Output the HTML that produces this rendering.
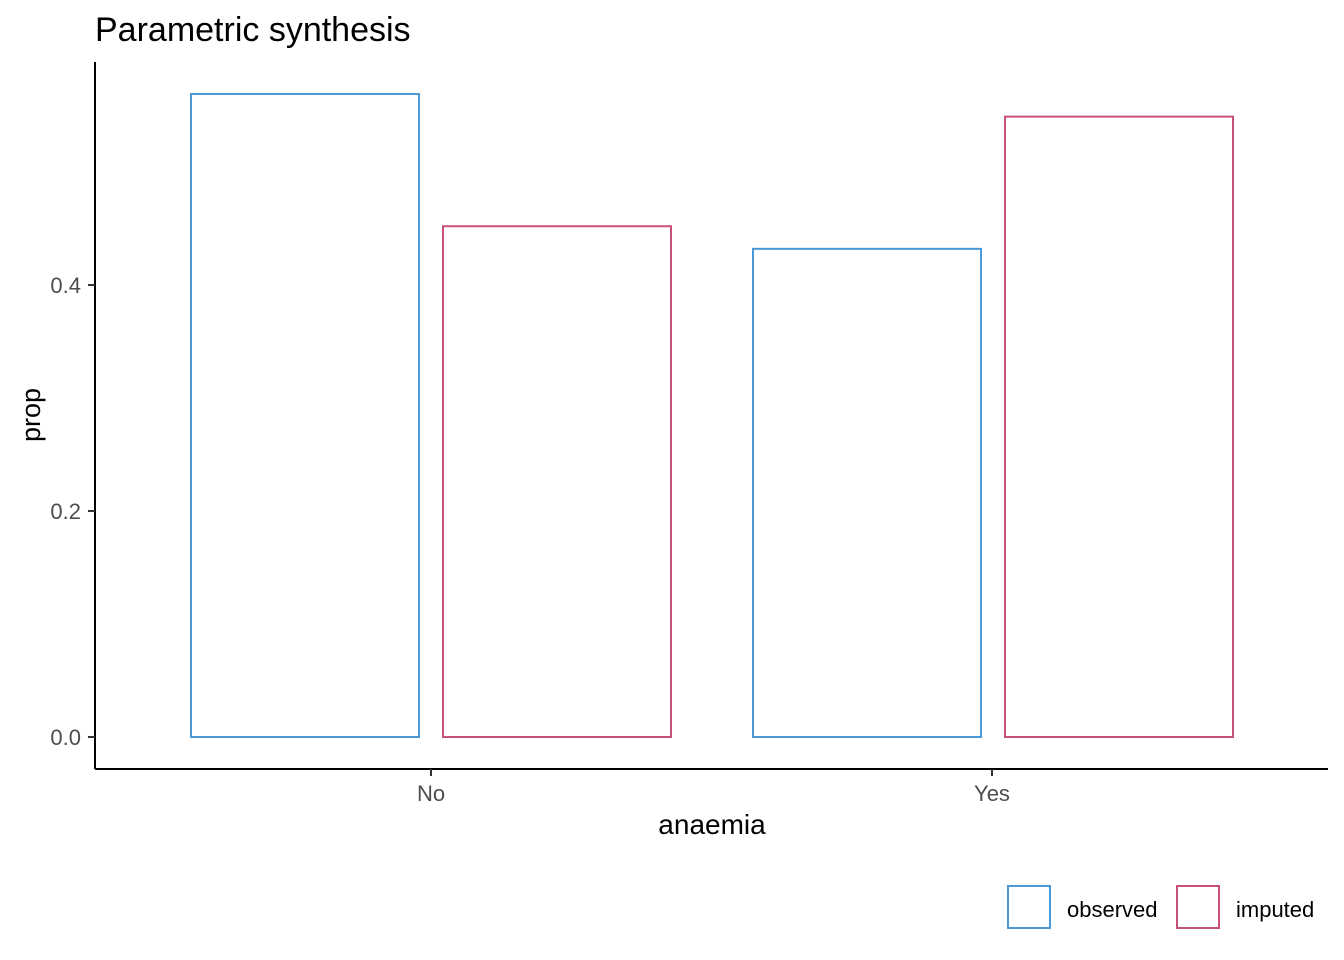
<!DOCTYPE html>
<html><head><meta charset="utf-8"><style>
html,body{margin:0;padding:0;background:#fff;}
svg{display:block;font-family:"Liberation Sans",sans-serif;}
</style></head><body>
<svg id="chart" width="1344" height="960">
<text x="95" y="41" font-size="34" fill="#000">Parametric synthesis</text>
<line x1="95" y1="62" x2="95" y2="769" stroke="#000" stroke-width="2"/>
<line x1="95" y1="769" x2="1328" y2="769" stroke="#000" stroke-width="2"/>
<g id="bars"></g><g id="yticks"></g><g id="xticks"></g>
<text x="712" y="834" font-size="28" text-anchor="middle" fill="#000">anaemia</text>
<text transform="translate(40,415) rotate(-90)" font-size="27" text-anchor="middle" fill="#000">prop</text>
<g>
<rect x="1008" y="886" width="42" height="42" fill="none" stroke="#4a98d6" stroke-width="2"/>
<text x="1067" y="917" font-size="22" fill="#000">observed</text>
<rect x="1177" y="886" width="42" height="42" fill="none" stroke="#c9507a" stroke-width="2"/>
<text x="1236" y="917" font-size="22" fill="#000">imputed</text>
</g>
</svg>
<script>
const categories = ["No", "Yes"];
const observed = [0.569, 0.432];
const imputed = [0.452, 0.549];
const yTicks = [0.0, 0.2, 0.4];
const yTickLabels = ["0.0", "0.2", "0.4"];
const NS = "http://www.w3.org/2000/svg";
function yScale(v){ return 737 - v * 1130; }
function xScale(i){ return 431 + i * 561; }
const barW = 228, off = 126;
const bars = document.getElementById("bars");
const series = [{vals: observed, col: "#4a98d6", name: "observed", d: -off}, {vals: imputed, col: "#c9507a", name: "imputed", d: off}];
series.forEach(s => {
  s.vals.forEach((v, i) => {
    const r = document.createElementNS(NS, "rect");
    const cx = xScale(i) + s.d + (i === 1 ? 1 : 0);
    r.setAttribute("x", cx - barW / 2);
    r.setAttribute("y", yScale(v));
    r.setAttribute("width", barW);
    r.setAttribute("height", yScale(0) - yScale(v));
    r.setAttribute("fill", "none");
    r.setAttribute("stroke", s.col);
    r.setAttribute("stroke-width", "2");
    
    
    bars.appendChild(r);
  });
});
const yt = document.getElementById("yticks");
yTicks.forEach((v, i) => {
  const l = document.createElementNS(NS, "line");
  l.setAttribute("x1", 88); l.setAttribute("x2", 95);
  l.setAttribute("y1", yScale(v)); l.setAttribute("y2", yScale(v));
  l.setAttribute("stroke", "#333"); l.setAttribute("stroke-width", "2");
  
  
  yt.appendChild(l);
  const t = document.createElementNS(NS, "text");
  t.setAttribute("x", 81); t.setAttribute("y", yScale(v) + 8);
  t.setAttribute("text-anchor", "end"); t.setAttribute("font-size", "22"); t.setAttribute("fill", "#4d4d4d");
  t.textContent = yTickLabels[i];
  
  
  yt.appendChild(t);
});
const xt = document.getElementById("xticks");
categories.forEach((c, i) => {
  const l = document.createElementNS(NS, "line");
  l.setAttribute("x1", xScale(i)); l.setAttribute("x2", xScale(i));
  l.setAttribute("y1", 769); l.setAttribute("y2", 776);
  l.setAttribute("stroke", "#333"); l.setAttribute("stroke-width", "2");
  
  
  xt.appendChild(l);
  const t = document.createElementNS(NS, "text");
  t.setAttribute("x", xScale(i)); t.setAttribute("y", 801);
  t.setAttribute("text-anchor", "middle"); t.setAttribute("font-size", "22"); t.setAttribute("fill", "#4d4d4d");
  t.textContent = c;
  
  
  xt.appendChild(t);
});
</script>
</body></html>
